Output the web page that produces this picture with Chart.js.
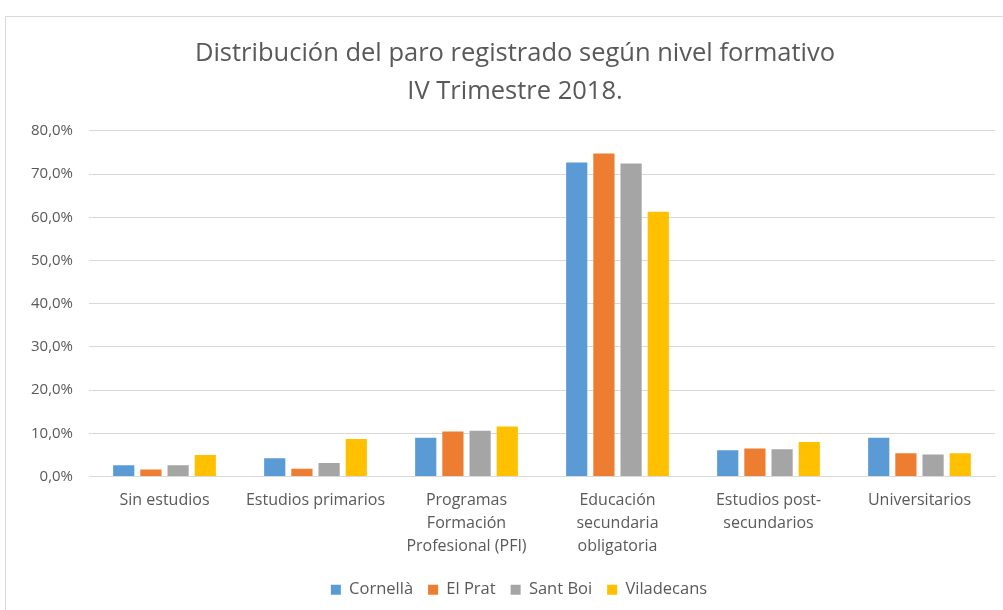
<!DOCTYPE html>
<html>
<head>
<meta charset="utf-8">
<script src="https://cdn.jsdelivr.net/npm/chart.js@4"></script>
<style>
  html, body { margin: 0; padding: 0; background: #fff; }
  #wrap { position: relative; width: 1003px; height: 610px; overflow: hidden; }
  #frame { position: absolute; left: 5px; top: 16px; width: 1100px; height: 700px; border: 1px solid #d9d9d9; }
  canvas { position: absolute; left: 0; top: 0; }
</style>
</head>
<body>
<div id="wrap">
  <div id="frame"></div>
  <canvas id="chart" width="1003" height="610"></canvas>
</div>
<script>
Chart.defaults.font.family = '"Open Sans", sans-serif';
Chart.defaults.color = '#595959';

const categories = [
    'Sin estudios',
    'Estudios primarios',
    ['Programas', 'Formación', 'Profesional (PFI)'],
    ['Educación', 'secundaria', 'obligatoria'],
    ['Estudios post-', 'secundarios'],
    'Universitarios'
];
const cornella = [2.6, 4.2, 9.0, 72.7, 6.1, 9.0];
const elPrat = [1.6, 1.8, 10.4, 74.8, 6.5, 5.4];
const santBoi = [2.6, 3.1, 10.6, 72.5, 6.3, 5.1];
const viladecans = [5.0, 8.7, 11.6, 61.3, 8.0, 5.4];
const yTicks = [0, 10, 20, 30, 40, 50, 60, 70, 80];

const ds = (label, data, color) => ({
    label, data,
    backgroundColor: color,
    borderWidth: 0,
    barPercentage: 0.78,
    categoryPercentage: 0.72,
});

// nudge title and legend a bit to the right, like the original
const boxShift = {
    id: 'boxShift',
    afterLayout(chart) {
        chart.legend.left += 14;
        chart.legend.right += 14;
        chart.titleBlock.left += 10;
        chart.titleBlock.right += 10;
    }
};

new Chart(document.getElementById('chart'), {
    type: 'bar',
    data: {
        labels: categories,
        datasets: [
            ds('Cornellà', cornella, '#5b9bd5'),
            ds('El Prat', elPrat, '#ed7d31'),
            ds('Sant Boi', santBoi, '#a5a5a5'),
            ds('Viladecans', viladecans, '#ffc000'),
        ]
    },
    options: {
        responsive: false,
        animation: false,
        layout: { padding: { left: 15, right: 8, top: 20, bottom: 2 } },
        plugins: {
            title: {
                display: true,
                text: ['Distribución del paro registrado según nivel formativo', 'IV Trimestre 2018.'],
                font: { size: 25.5, weight: 'normal', lineHeight: 1.49 },
                color: '#595959',
                padding: { top: 15, bottom: 20 },
            },
            legend: {
                position: 'bottom',
                labels: { boxWidth: 10, boxHeight: 10, font: { size: 16.5 }, padding: 15 },
            },
            tooltip: { enabled: false },
        },
        scales: {
            x: {
                grid: { display: false, drawTicks: false },
                border: { color: '#d9d9d9' },
                ticks: { font: { size: 16, lineHeight: 1.45 }, maxRotation: 0, autoSkip: false, padding: 12 },
                afterFit: (s) => { s.height = 90; },
            },
            y: {
                min: 0, max: 80,
                afterBuildTicks: (s) => { s.ticks = yTicks.map(v => ({ value: v })); },
                grid: { color: '#d9d9d9', drawTicks: false },
                border: { display: false },
                ticks: {
                    font: { size: 15 }, padding: 16,
                    callback: (v) => v.toFixed(1).replace('.', ',') + '%',
                },
            },
        },
    },
    plugins: [boxShift],
});
</script>
</body>
</html>
